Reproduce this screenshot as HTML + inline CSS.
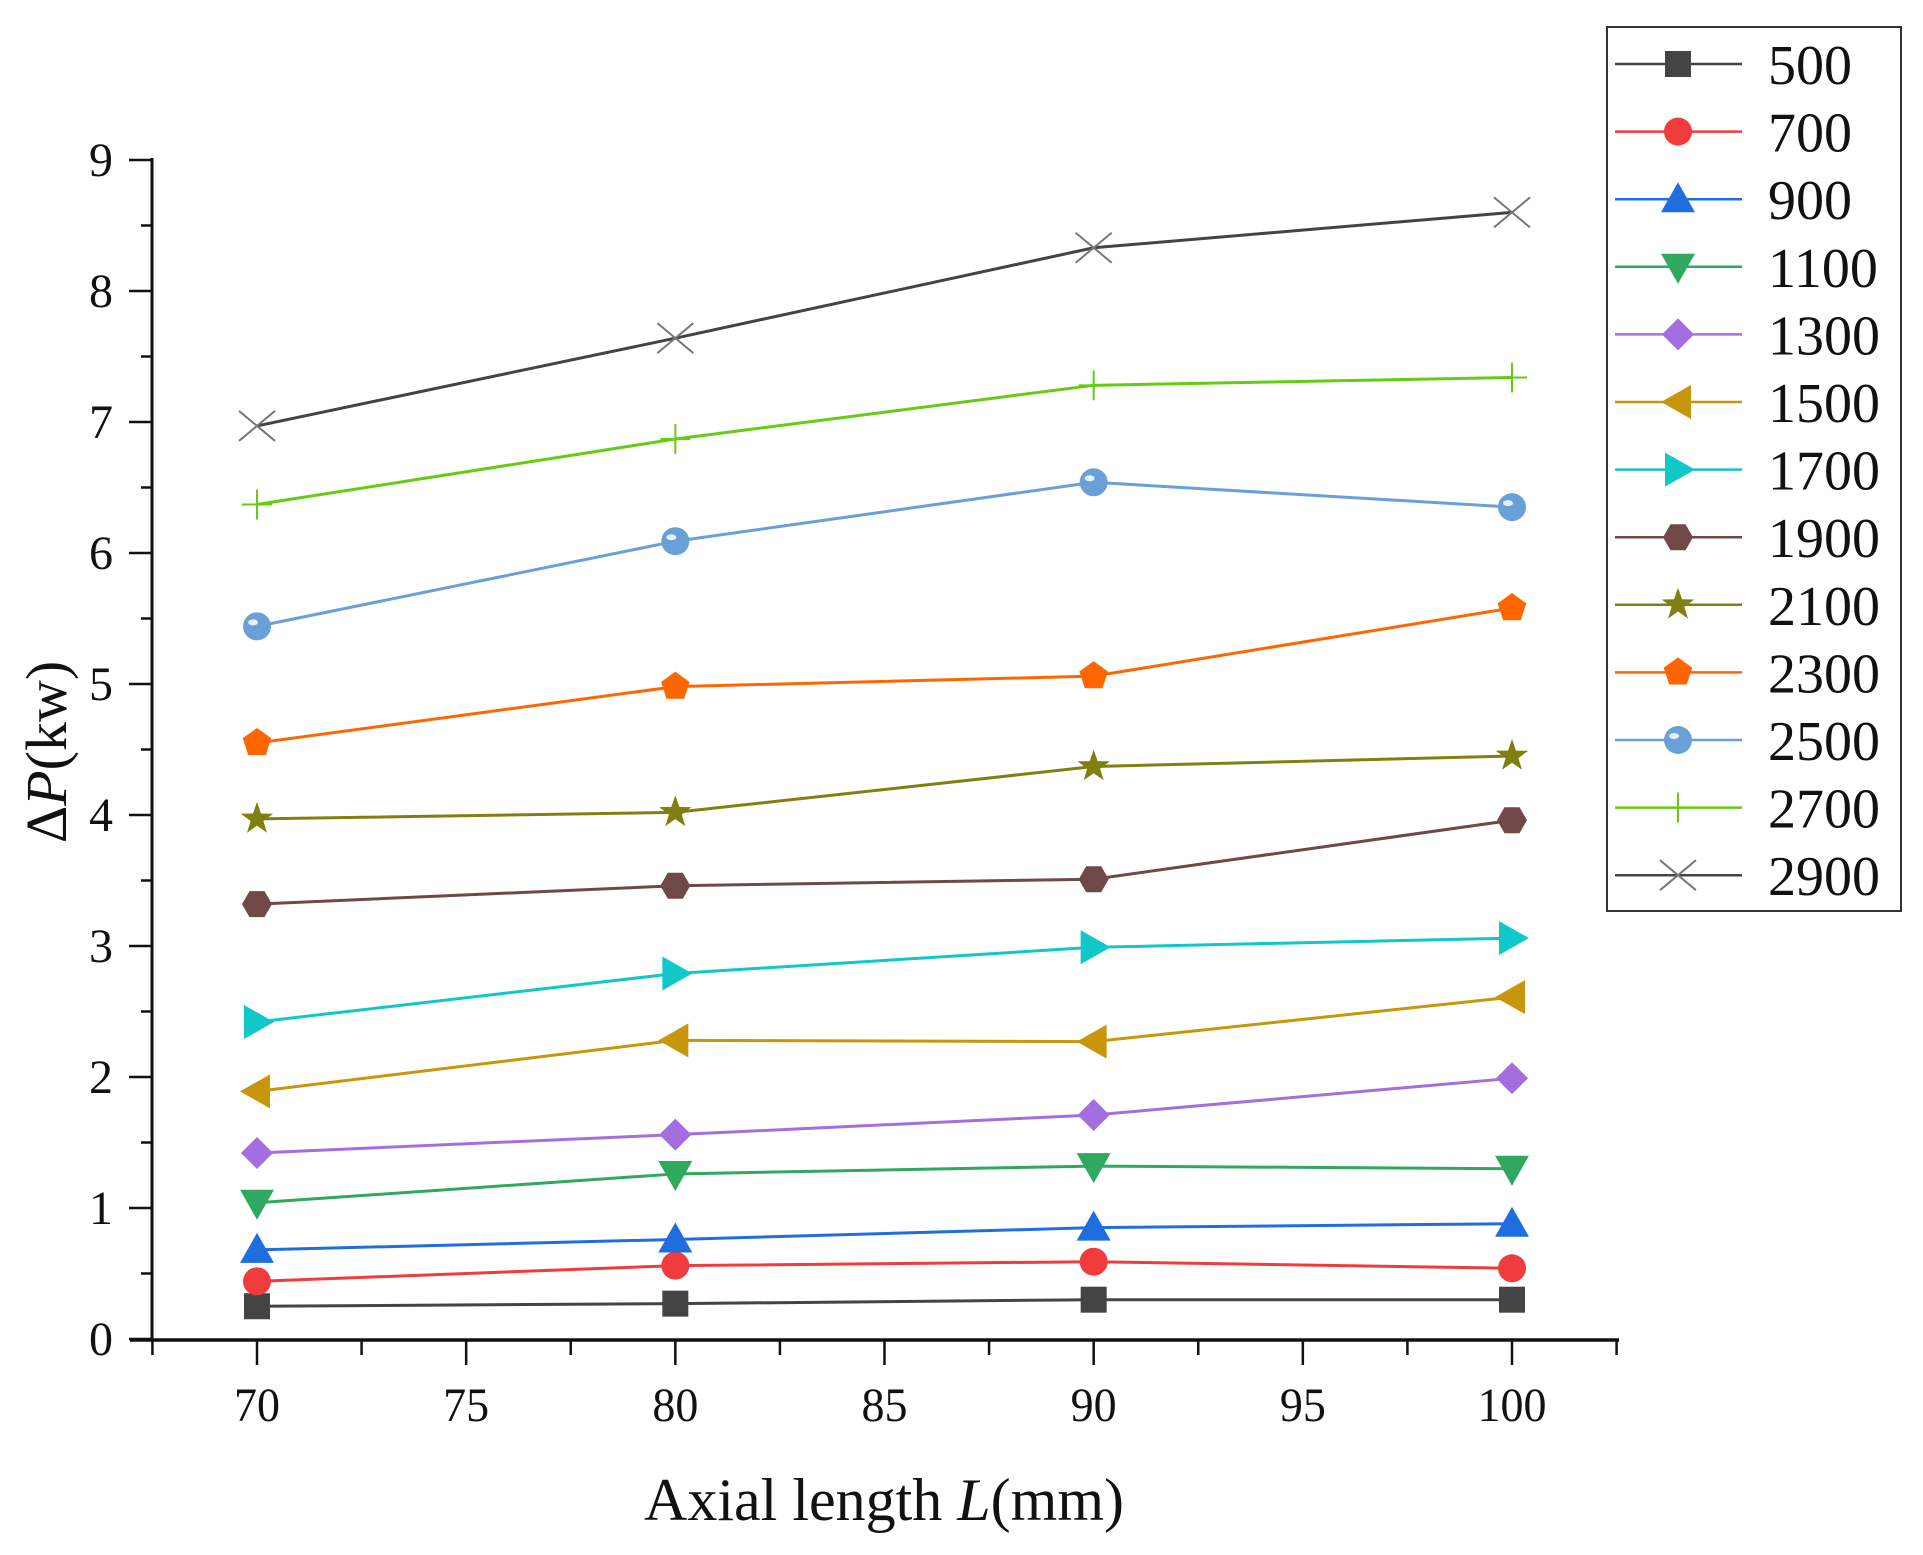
<!DOCTYPE html>
<html><head><meta charset="utf-8"><style>
html,body{margin:0;padding:0;background:#fff;}
svg{display:block;font-family:"Liberation Serif",serif;}
</style></head><body>
<svg id="chart" width="1923" height="1555" viewBox="0 0 1923 1555"></svg>
<script>
const xCats = [70, 80, 90, 100];
const xTicks = [70, 75, 80, 85, 90, 95, 100];
const yTicks = [0, 1, 2, 3, 4, 5, 6, 7, 8, 9];
const seriesNames = ["500","700","900","1100","1300","1500","1700","1900","2100","2300","2500","2700","2900"];
const s500 = [0.25, 0.27, 0.30, 0.30];
const s700 = [0.44, 0.56, 0.59, 0.54];
const s900 = [0.68, 0.76, 0.85, 0.88];
const s1100 = [1.04, 1.26, 1.32, 1.30];
const s1300 = [1.42, 1.56, 1.71, 1.99];
const s1500 = [1.89, 2.28, 2.27, 2.61];
const s1700 = [2.42, 2.79, 2.99, 3.06];
const s1900 = [3.32, 3.46, 3.51, 3.96];
const s2100 = [3.97, 4.02, 4.37, 4.45];
const s2300 = [4.55, 4.98, 5.06, 5.58];
const s2500 = [5.44, 6.09, 6.54, 6.35];
const s2700 = [6.37, 6.87, 7.28, 7.34];
const s2900 = [6.97, 7.64, 8.33, 8.60];
const seriesValues = [s500,s700,s900,s1100,s1300,s1500,s1700,s1900,s2100,s2300,s2500,s2700,s2900];

const colors = ["#444444","#f03c3c","#1f6ee0","#2fa860","#a56ee0","#c8960a","#10c8c8","#704848","#808010","#ff6600","#6aa0d8","#66cc11","#444444"];
const shapes = ["square","circle","up","down","diamond","left","right","hex","star","pent","ball","plus","cross"];

const NS="http://www.w3.org/2000/svg";
const svg=document.getElementById('chart');
function el(t,a,p){const e=document.createElementNS(NS,t);for(const k in a)e.setAttribute(k,a[k]);(p||svg).appendChild(e);return e;}
const X0=257, X1=1512, Y0=1339, Y9=160;
const xs=v=>X0+(v-70)*(X1-X0)/30;
const ys=v=>Y0+(v)*(Y9-Y0)/9;

const axes=el('g',{});


el('line',{x1:152,y1:158,x2:152,y2:1341,stroke:'#111','stroke-width':3},axes);
el('line',{x1:130,y1:1340,x2:1619,y2:1340,stroke:'#111','stroke-width':3.5},axes);
for(let v=0;v<=9;v+=0.5){
  const major=Number.isInteger(v);
  el('line',{x1:major?129:141,y1:ys(v),x2:152,y2:ys(v),stroke:'#111','stroke-width':2.5},axes);
}
yTicks.forEach(v=>{
  const t=el('text',{x:113,y:ys(v)+16,'text-anchor':'end','font-size':48,fill:'#111'},axes);
  t.textContent=v;
  
  
});
for(let v=67.5;v<=102.5;v+=2.5){
  const major=(v%5===0);
  el('line',{x1:xs(v),y1:1340,x2:xs(v),y2:major?1365:1355,stroke:'#111','stroke-width':2.5},axes);
}
xTicks.forEach(v=>{
  const t=el('text',{x:xs(v),y:1421,'text-anchor':'middle','font-size':48,fill:'#111',textLength:String(v).length*23,lengthAdjust:'spacingAndGlyphs'},axes);
  t.textContent=v;
  
  
});
const xt=el('text',{x:884,y:1520,'text-anchor':'middle','font-size':60,fill:'#111'});
xt.innerHTML='Axial length <tspan font-style="italic">L</tspan>(mm)';


const yt=el('text',{x:0,y:0,'text-anchor':'middle','font-size':58,fill:'#111',transform:'translate(66,752) rotate(-90)'});
yt.innerHTML='Δ<tspan font-style="italic">P</tspan>(kw)';



function marker(g,shape,cx,cy,c,r){
  r=r||15;
  const pts=(n,rot,rr)=>{let a=[];for(let i=0;i<n;i++){const t=rot+i*2*Math.PI/n;a.push((cx+rr*Math.cos(t)).toFixed(1)+','+(cy+rr*Math.sin(t)).toFixed(1));}return a.join(' ');};
  switch(shape){
    case 'square': el('rect',{x:cx-r+2,y:cy-r+2,width:2*r-4,height:2*r-4,fill:c},g);break;
    case 'circle': el('circle',{cx,cy,r:r-1,fill:c},g);break;
    case 'up': el('polygon',{points:`${cx},${cy-r-2} ${cx+r+2},${cy+r-2} ${cx-r-2},${cy+r-2}`,fill:c},g);break;
    case 'down': el('polygon',{points:`${cx},${cy+r+2} ${cx+r+2},${cy-r+2} ${cx-r-2},${cy-r+2}`,fill:c},g);break;
    case 'left': el('polygon',{points:`${cx-r-2},${cy} ${cx+r-2},${cy-r-2} ${cx+r-2},${cy+r+2}`,fill:c},g);break;
    case 'right': el('polygon',{points:`${cx+r+2},${cy} ${cx-r+2},${cy-r-2} ${cx-r+2},${cy+r+2}`,fill:c},g);break;
    case 'diamond': el('polygon',{points:`${cx},${cy-r-1} ${cx+r+1},${cy} ${cx},${cy+r+1} ${cx-r-1},${cy}`,fill:c},g);break;
    case 'hex': el('polygon',{points:pts(6,0,r),fill:c},g);break;
    case 'pent': el('polygon',{points:pts(5,-Math.PI/2,r),fill:c},g);break;
    case 'star': {let a=[];for(let i=0;i<10;i++){const rr=i%2?r*0.45:r+2;const t=-Math.PI/2+i*Math.PI/5;a.push((cx+rr*Math.cos(t)).toFixed(1)+','+(cy+rr*Math.sin(t)).toFixed(1));}el('polygon',{points:a.join(' '),fill:c},g);break;}
    case 'ball': el('circle',{cx,cy,r:r-1,fill:c},g);el('ellipse',{cx:cx-4,cy:cy-4,rx:5,ry:3,fill:'#e8f0fa'},g);break;
    case 'plus': el('line',{x1:cx,y1:cy-r,x2:cx,y2:cy+r,stroke:c,'stroke-width':2},g);el('line',{x1:cx-r,y1:cy,x2:cx+r,y2:cy,stroke:c,'stroke-width':2},g);break;
    case 'cross': el('line',{x1:cx-r-3,y1:cy-r,x2:cx+r+3,y2:cy+r,stroke:'#777','stroke-width':2},g);el('line',{x1:cx-r-3,y1:cy+r,x2:cx+r+3,y2:cy-r,stroke:'#777','stroke-width':2},g);break;
  }
}

seriesValues.forEach((vals,i)=>{
  const g=el('g',{});
  
  
  const d=vals.map((v,j)=>(j?'L':'M')+xs(xCats[j])+','+ys(v)).join(' ');
  el('path',{d,fill:'none',stroke:colors[i],'stroke-width':3},g);
  vals.forEach((v,j)=>marker(g,shapes[i],xs(xCats[j]),ys(v),colors[i]));
});

const lg=el('g',{});


el('rect',{x:1607,y:27,width:294,height:884,fill:'#fff',stroke:'#333','stroke-width':2},lg);
seriesNames.forEach((n,i)=>{
  const y=64+i*67.6;
  const g=el('g',{},lg);
  
  
  el('line',{x1:1615,y1:y,x2:1742,y2:y,stroke:colors[i],'stroke-width':2.5},g);
  marker(g,shapes[i],1678,y,colors[i]);
  const t=el('text',{x:1768,y:y+20,'font-size':56,fill:'#111'},g);
  t.textContent=n;
});
</script>
</body></html>
